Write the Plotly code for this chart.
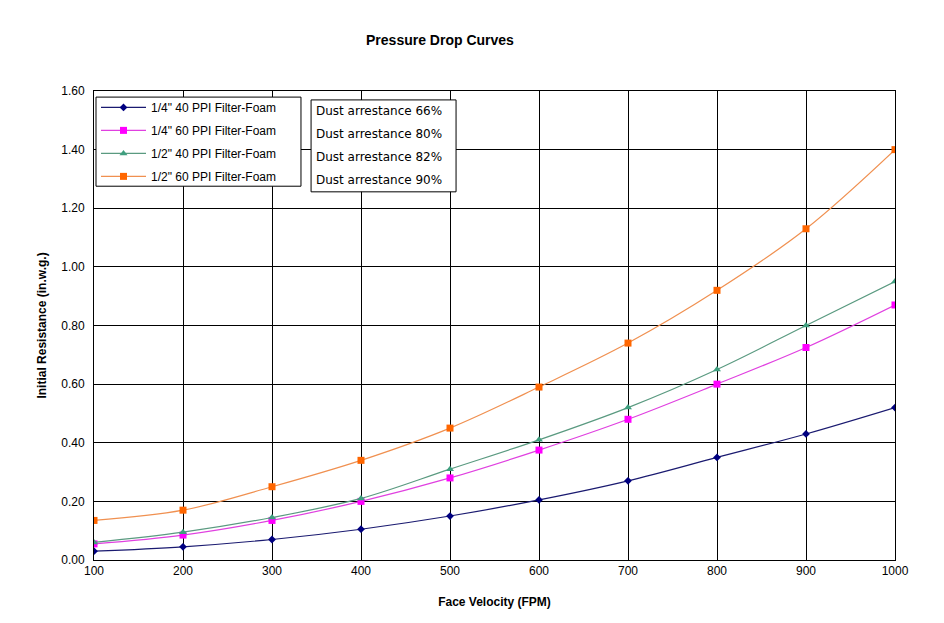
import plotly.graph_objects as go

velocity = [100, 200, 300, 400, 500, 600, 700, 800, 900, 1000]
quarter_40 = [0.03, 0.045, 0.07, 0.105, 0.15, 0.205, 0.27, 0.35, 0.43, 0.52]
quarter_60 = [0.055, 0.085, 0.135, 0.20, 0.28, 0.375, 0.48, 0.60, 0.725, 0.87]
half_40 = [0.06, 0.095, 0.145, 0.21, 0.31, 0.41, 0.52, 0.65, 0.80, 0.95]
half_60 = [0.135, 0.17, 0.25, 0.34, 0.45, 0.59, 0.74, 0.92, 1.13, 1.40]
names = ['1/4" 40 PPI Filter-Foam', '1/4" 60 PPI Filter-Foam',
         '1/2" 40 PPI Filter-Foam', '1/2" 60 PPI Filter-Foam']
arrestance = ["Dust arrestance 66%", "Dust arrestance 80%",
              "Dust arrestance 82%", "Dust arrestance 90%"]

series = [quarter_40, quarter_60, half_40, half_60]
colors = ["#000080", "#FF00FF", "#3F9F7F", "#FF6600"]
linecolors = ["#1a1a70", "#E040E0", "#5a9a80", "#F09050"]
symbols = ["diamond", "square", "triangle-up", "square"]
sizes = [6, 7, 7, 7]

fig = go.Figure()
for i, (vals, nm) in enumerate(zip(series, names)):
    fig.add_trace(go.Scatter(
        x=velocity, y=vals, name=nm, mode="lines+markers",
        line=dict(color=linecolors[i], width=1.2, shape="spline"),
        marker=dict(color=colors[i], symbol=symbols[i], size=sizes[i]),
        legendgroup=f"g{i}",
    ))

# Legend frame
fig.add_shape(type="rect", xref="paper", yref="paper",
              x0=0.0025, x1=0.2584, y0=0.797, y1=0.987,
              line=dict(color="black", width=1), fillcolor="white", layer="above")

# Dust arrestance box
fig.add_shape(type="rect", xref="paper", yref="paper",
              x0=0.271, x1=0.452, y0=0.785, y1=0.981,
              line=dict(color="black", width=1), fillcolor="white", layer="above")
line_y = [0.957, 0.908, 0.859, 0.810]
for txt, yy in zip(arrestance, line_y):
    fig.add_annotation(
        xref="paper", yref="paper", x=0.2747, y=yy, xanchor="left", yanchor="middle",
        text=txt, showarrow=False, align="left",
        font=dict(family="DejaVu Sans, Noto Sans", size=12, color="black"),
    )

fig.update_layout(
    width=936, height=615,
    paper_bgcolor="white", plot_bgcolor="white",
    margin=dict(l=86, r=49, t=83, b=63, autoexpand=False),
    font=dict(family="Liberation Sans, Arial", size=12, color="black"),
    title=dict(text="<b>Pressure Drop Curves</b>", x=0.4615, xanchor="center",
               y=0.948, yanchor="middle", font=dict(size=14)),
    legend=dict(x=0.0025, y=0.996, xanchor="left", yanchor="top",
                borderwidth=0, bgcolor="rgba(0,0,0,0)",
                font=dict(size=12), tracegroupgap=4, itemwidth=45),
    xaxis=dict(range=[100, 1000], dtick=100, tick0=100, showgrid=True,
               gridcolor="black", gridwidth=1, showline=True, linecolor="black",
               mirror=True, zeroline=False, ticks="", automargin=False,
               title=dict(text="<b>Face Velocity (FPM)</b>", font=dict(size=12), standoff=20)),
    yaxis=dict(range=[0, 1.6], dtick=0.2, tickformat=".2f", showgrid=True,
               gridcolor="black", gridwidth=1, showline=True, linecolor="black",
               mirror=True, zeroline=False, ticks="", automargin=False,
               ticklabelstandoff=6,
               title=dict(text="<b>Initial Resistance (in.w.g.)</b>", font=dict(size=12), standoff=12)),
)

fig.write_html("out.html")
